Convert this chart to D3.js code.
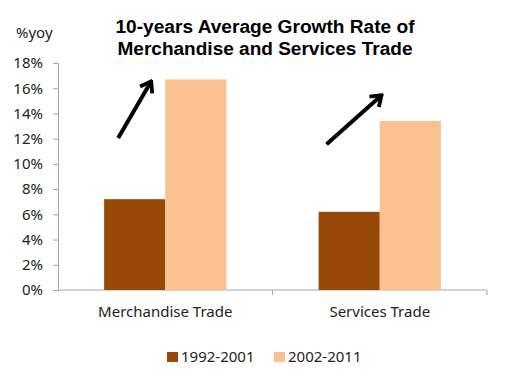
<!DOCTYPE html>
<html>
<head>
<meta charset="utf-8">
<script src="https://cdn.jsdelivr.net/npm/d3@7"></script>
<style>
	html, body { margin: 0; padding: 0; background: #fff; }
	svg { display: block; }
</style>
</head>
<body>
<div id="chart"></div>
<script>
// Categories on the x axis
const categories = ["Merchandise Trade", "Services Trade"];
// The two periods (series)
const seriesNames = ["1992-2001", "2002-2011"];
// Average growth in % per category, one array per period
const values1992 = [7.2, 6.2];
const values2002 = [16.7, 13.4];
// Y axis ticks
const yTicks = [0, 2, 4, 6, 8, 10, 12, 14, 16, 18];
// Title lines
const titleLines = ["10-years Average Growth Rate of", "Merchandise and Services Trade"];
// Arrow annotations: category, start/end value and position inside the group (0..1)
const arrowCategory = ["Merchandise Trade", "Services Trade"];
const arrowFrom = [[0.115, 12.05], [0.065, 11.55]];
const arrowTo = [[0.385, 16.55], [0.515, 15.45]];

class GrowthBarChart {
	constructor(targetElementName) {
		this.targetElement = d3.select(`#${targetElementName}`);

		this.width = 519;
		this.height = 377;
		// plot area (left edge of axis, right end of x axis, top = 18%, bottom = 0%)
		this.plot = { "left": 58, "right": 487, "top": 63, "bottom": 290 };

		this.colors = ["#984807", "#fac090"];

		this.initPlot();
		this.drawAxes();
		this.drawBars();
		this.drawArrows();
		this.drawTexts();
		this.drawLegend();
	}

	initPlot() {
		this.svg = this.targetElement.append("svg")
			.attr("width", this.width)
			.attr("height", this.height);

		this.x = d3.scaleBand()
			.domain(categories)
			.range([this.plot.left, this.plot.right])
			.paddingInner(0.43)
			.paddingOuter(0.215);

		this.xInner = d3.scaleBand()
			.domain(seriesNames)
			.range([0, this.x.bandwidth()]);

		this.y = d3.scaleLinear()
			.domain([0, 18])
			.range([this.plot.bottom, this.plot.top]);
	}

	drawAxes() {
		// y axis, ticks on the left
		const yAxis = this.svg.append("g")
			.attr("transform", `translate(${this.plot.left},0)`)
			.call(d3.axisLeft(this.y).tickValues(yTicks).tickSize(5).tickPadding(10)
				.tickFormat(d => `${d}%`));
		yAxis.selectAll("path, line").attr("stroke", "#a6a6a6");
		yAxis.selectAll("text")
			.attr("fill", "#222")
			.style("font-family", "'Noto Sans', sans-serif")
			.style("font-size", "15px");

		// x axis line with category divider ticks below
		const xg = this.svg.append("g");
		xg.append("line")
			.attr("x1", this.plot.left).attr("x2", this.plot.right)
			.attr("y1", this.plot.bottom).attr("y2", this.plot.bottom)
			.attr("stroke", "#a6a6a6");
		const step = this.x.step();
		const dividers = [this.plot.left + step, this.plot.right];
		xg.selectAll("line.div")
			.data(dividers)
			.enter()
			.append("line")
			.attr("class", "div")
			.attr("x1", d => d).attr("x2", d => d)
			.attr("y1", this.plot.bottom).attr("y2", this.plot.bottom + 5)
			.attr("stroke", "#a6a6a6");

		xg.selectAll("text")
			.data(categories)
			.enter()
			.append("text")
			.attr("x", d => this.x(d) + this.x.bandwidth() / 2)
			.attr("y", 317)
			.attr("text-anchor", "middle")
			.attr("fill", "#222")
			.style("font-family", "'Noto Sans', sans-serif")
			.style("font-size", "15px")
			.text(d => d);
	}

	drawBars() {
		const rows = [values1992, values2002];
		seriesNames.forEach((name, s) => {
			this.svg.append("g")
				.selectAll("rect")
				.data(categories)
				.enter()
				.append("rect")
				.attr("x", d => this.x(d) + this.xInner(name))
				.attr("width", this.xInner.bandwidth())
				.attr("y", (d, i) => this.y(rows[s][i]))
				.attr("height", (d, i) => this.y(0) - this.y(rows[s][i]))
				.attr("fill", this.colors[s]);
		});
	}

	drawArrows() {
		const defs = this.svg.append("defs");
		defs.append("marker")
			.attr("id", "arrowhead")
			.attr("markerUnits", "userSpaceOnUse")
			.attr("viewBox", "-13 -9 15 18")
			.attr("markerWidth", 15)
			.attr("markerHeight", 18)
			.attr("refX", 0)
			.attr("refY", 0)
			.attr("orient", "auto")
			.append("path")
			.attr("d", "M-10,-7 L0,0 L-10,7")
			.attr("fill", "none")
			.attr("stroke", "#000")
			.attr("stroke-width", 3.8)
			.attr("stroke-linejoin", "miter");

		const bw = this.x.bandwidth();
		this.svg.append("g")
			.selectAll("line")
			.data(arrowCategory)
			.enter()
			.append("line")
			.attr("x1", (d, i) => this.x(d) + arrowFrom[i][0] * bw)
			.attr("y1", (d, i) => this.y(arrowFrom[i][1]))
			.attr("x2", (d, i) => this.x(d) + arrowTo[i][0] * bw)
			.attr("y2", (d, i) => this.y(arrowTo[i][1]))
			.attr("stroke", "#000")
			.attr("stroke-width", 4)
			.attr("marker-end", "url(#arrowhead)");
	}

	drawTexts() {
		this.svg.append("text")
			.attr("x", 16)
			.attr("y", 38)
			.attr("fill", "#222")
			.style("font-family", "'Noto Sans', sans-serif")
			.style("font-size", "15px")
			.text("%yoy");

		// the title is a bit wider than plain Arial bold, so stretch it to the measured width
		const titleWidths = [299, 295];
		this.svg.append("g")
			.selectAll("text")
			.data(titleLines)
			.enter()
			.append("text")
			.attr("x", 265)
			.attr("y", (d, i) => 33 + i * 22)
			.attr("text-anchor", "middle")
			.attr("textLength", (d, i) => titleWidths[i])
			.attr("lengthAdjust", "spacingAndGlyphs")
			.attr("fill", "#000")
			.style("font-family", "'Liberation Sans', Arial, sans-serif")
			.style("font-weight", "bold")
			.style("font-size", "18px")
			.text(d => d);
	}

	drawLegend() {
		const legendX = [167, 274];
		const legend = this.svg.append("g")
			.selectAll("g")
			.data(seriesNames)
			.enter()
			.append("g")
			.attr("transform", (d, i) => `translate(${legendX[i]},352)`);

		legend.append("rect")
			.attr("width", 11)
			.attr("height", 10)
			.attr("fill", (d, i) => this.colors[i]);

		legend.append("text")
			.attr("x", 14)
			.attr("y", 10)
			.attr("fill", "#222")
			.style("font-family", "'Noto Sans', sans-serif")
			.style("font-size", "15px")
			.text(d => d);
	}
}

new GrowthBarChart("chart");
</script>
</body>
</html>
